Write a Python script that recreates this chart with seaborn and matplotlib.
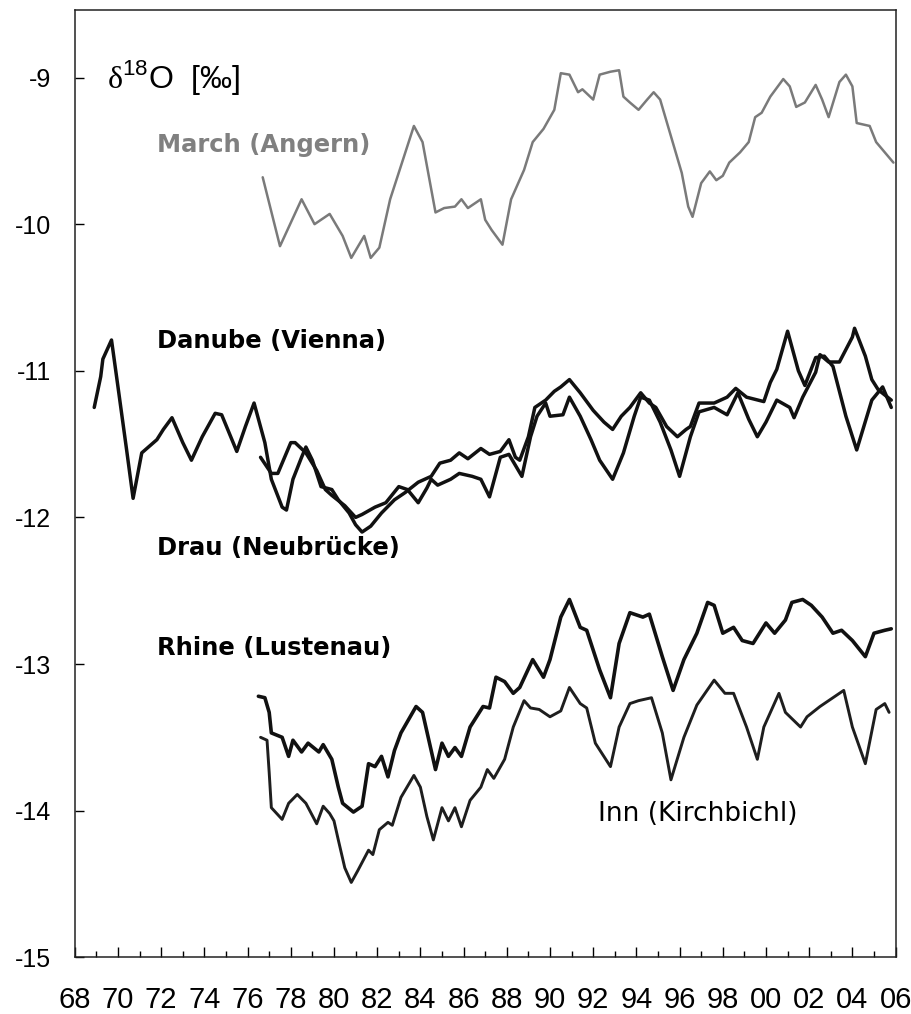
import numpy as np
import pandas as pd
import matplotlib
matplotlib.use("Agg")
import matplotlib.pyplot as plt
import seaborn as sns

# ── Data (year, delta-18O in permil) ────────────────────────────────────────

march_year = [1976.7, 1977.5, 1978.5, 1979.1, 1979.8, 1980.4, 1980.8, 1981.4, 1981.7,
              1982.1, 1982.6, 1983.7, 1984.1, 1984.7, 1985.1, 1985.6, 1985.9, 1986.2,
              1986.8, 1987.0, 1987.3, 1987.8, 1988.2, 1988.8, 1989.2, 1989.7, 1990.2,
              1990.5, 1990.9, 1991.3, 1991.5, 1992.0, 1992.3, 1992.8, 1993.2, 1993.4,
              1993.7, 1994.1, 1994.5, 1994.8, 1995.1, 1995.6, 1996.1, 1996.4, 1996.6,
              1997.0, 1997.4, 1997.7, 1998.0, 1998.3, 1998.8, 1999.2, 1999.5, 1999.8,
              2000.2, 2000.8, 2001.1, 2001.4, 2001.8, 2002.3, 2002.6, 2002.9, 2003.4,
              2003.7, 2004.0, 2004.2, 2004.8, 2005.1, 2005.5, 2005.9]
march_d18o = [-9.68, -10.15, -9.83, -10.00, -9.93, -10.08, -10.23, -10.08, -10.23,
              -10.16, -9.83, -9.33, -9.44, -9.92, -9.89, -9.88, -9.83, -9.89,
              -9.83, -9.97, -10.04, -10.14, -9.83, -9.63, -9.44, -9.35, -9.22,
              -8.97, -8.98, -9.10, -9.08, -9.15, -8.98, -8.96, -8.95, -9.13,
              -9.17, -9.22, -9.15, -9.10, -9.15, -9.40, -9.65, -9.88, -9.95,
              -9.72, -9.64, -9.70, -9.67, -9.58, -9.51, -9.44, -9.27, -9.24,
              -9.13, -9.01, -9.06, -9.20, -9.17, -9.05, -9.15, -9.27, -9.03,
              -8.98, -9.06, -9.31, -9.33, -9.44, -9.51, -9.58]

danube_year = [1968.9, 1969.2, 1969.3, 1969.7, 1970.0, 1970.4, 1970.7, 1971.1, 1971.8,
               1972.1, 1972.5, 1973.0, 1973.4, 1973.9, 1974.5, 1974.8, 1975.5, 1975.9,
               1976.3, 1976.8, 1977.1, 1977.6, 1977.8, 1978.1, 1978.5, 1978.7, 1979.0,
               1979.4, 1979.9, 1980.2, 1980.7, 1981.0, 1981.3, 1981.7, 1982.2, 1982.8,
               1983.3, 1983.9, 1984.5, 1984.9, 1985.4, 1985.8, 1986.2, 1986.8, 1987.2,
               1987.7, 1988.1, 1988.4, 1988.6, 1989.0, 1989.3, 1989.8, 1990.2, 1990.5,
               1990.9, 1991.4, 1992.0, 1992.5, 1992.9, 1993.3, 1993.7, 1994.2, 1994.6,
               1994.9, 1995.4, 1995.9, 1996.3, 1996.5, 1996.9, 1997.6, 1998.2, 1998.6,
               1999.1, 1999.9, 2000.2, 2000.5, 2001.0, 2001.5, 2001.8, 2002.3, 2002.7,
               2003.1, 2003.7, 2004.2, 2004.9, 2005.4, 2005.8]
danube_d18o = [-11.25, -11.04, -10.92, -10.79, -11.11, -11.54, -11.87, -11.56, -11.47,
               -11.40, -11.32, -11.49, -11.61, -11.45, -11.29, -11.30, -11.55, -11.38,
               -11.22, -11.49, -11.74, -11.93, -11.95, -11.74, -11.59, -11.52, -11.61,
               -11.79, -11.81, -11.88, -11.97, -12.05, -12.10, -12.06, -11.97, -11.88,
               -11.83, -11.76, -11.72, -11.63, -11.61, -11.56, -11.60, -11.53, -11.57,
               -11.55, -11.47, -11.59, -11.61, -11.45, -11.25, -11.20, -11.14, -11.11,
               -11.06, -11.15, -11.27, -11.35, -11.40, -11.31, -11.25, -11.15, -11.22,
               -11.25, -11.38, -11.45, -11.40, -11.38, -11.22, -11.22, -11.18, -11.12,
               -11.18, -11.21, -11.08, -10.99, -10.73, -11.00, -11.10, -10.91, -10.90,
               -10.97, -11.31, -11.54, -11.20, -11.11, -11.25]

drau_year = [1976.6, 1977.1, 1977.4, 1978.0, 1978.2, 1978.7, 1979.2, 1979.6, 1979.9,
             1980.5, 1981.0, 1981.3, 1981.9, 1982.4, 1983.0, 1983.4, 1983.9, 1984.3,
             1984.5, 1984.8, 1985.4, 1985.8, 1986.4, 1986.8, 1987.2, 1987.7, 1988.1,
             1988.7, 1989.1, 1989.4, 1989.8, 1990.0, 1990.6, 1990.9, 1991.4, 1991.9,
             1992.3, 1992.9, 1993.4, 1993.9, 1994.2, 1994.6, 1995.1, 1995.6, 1996.0,
             1996.5, 1996.9, 1997.6, 1998.2, 1998.7, 1999.2, 1999.6, 2000.0, 2000.5,
             2001.1, 2001.3, 2001.7, 2002.3, 2002.5, 2002.9, 2003.4, 2004.0, 2004.1,
             2004.6, 2004.9, 2005.2, 2005.8]
drau_d18o = [-11.59, -11.70, -11.70, -11.49, -11.49, -11.56, -11.68, -11.81, -11.85,
             -11.92, -12.00, -11.98, -11.93, -11.90, -11.79, -11.81, -11.90, -11.80,
             -11.74, -11.78, -11.74, -11.70, -11.72, -11.74, -11.86, -11.59, -11.57,
             -11.72, -11.45, -11.31, -11.22, -11.31, -11.30, -11.18, -11.31, -11.47,
             -11.61, -11.74, -11.56, -11.31, -11.18, -11.20, -11.35, -11.54, -11.72,
             -11.45, -11.28, -11.25, -11.30, -11.15, -11.33, -11.45, -11.35, -11.20,
             -11.25, -11.32, -11.18, -11.01, -10.89, -10.94, -10.94, -10.77, -10.71,
             -10.90, -11.06, -11.13, -11.20]

rhine_year = [1976.5, 1976.8, 1977.0, 1977.1, 1977.6, 1977.9, 1978.1, 1978.5, 1978.8,
              1979.3, 1979.5, 1979.9, 1980.2, 1980.4, 1980.9, 1981.3, 1981.6, 1981.9,
              1982.2, 1982.5, 1982.8, 1983.1, 1983.8, 1984.1, 1984.5, 1984.7, 1985.0,
              1985.3, 1985.6, 1985.9, 1986.3, 1986.9, 1987.2, 1987.5, 1987.9, 1988.3,
              1988.6, 1989.2, 1989.7, 1990.0, 1990.5, 1990.9, 1991.4, 1991.7, 1992.3,
              1992.8, 1993.2, 1993.7, 1994.3, 1994.6, 1995.2, 1995.7, 1996.2, 1996.8,
              1997.3, 1997.6, 1998.0, 1998.5, 1998.9, 1999.4, 2000.0, 2000.4, 2000.9,
              2001.2, 2001.7, 2002.1, 2002.6, 2003.1, 2003.5, 2004.0, 2004.6, 2005.0,
              2005.5, 2005.8]
rhine_d18o = [-13.22, -13.23, -13.33, -13.47, -13.50, -13.63, -13.52, -13.60, -13.54,
              -13.60, -13.55, -13.65, -13.84, -13.95, -14.01, -13.97, -13.68, -13.70,
              -13.63, -13.77, -13.59, -13.47, -13.29, -13.33, -13.59, -13.72, -13.54,
              -13.63, -13.57, -13.63, -13.43, -13.29, -13.30, -13.09, -13.12, -13.20,
              -13.16, -12.97, -13.09, -12.97, -12.68, -12.56, -12.75, -12.77, -13.04,
              -13.23, -12.86, -12.65, -12.68, -12.66, -12.95, -13.18, -12.97, -12.79,
              -12.58, -12.60, -12.79, -12.75, -12.84, -12.86, -12.72, -12.79, -12.70,
              -12.58, -12.56, -12.60, -12.68, -12.79, -12.77, -12.84, -12.95, -12.79,
              -12.77, -12.76]

inn_year = [1976.6, 1976.9, 1977.0, 1977.1, 1977.6, 1977.9, 1978.3, 1978.7, 1979.2,
            1979.5, 1979.8, 1980.0, 1980.2, 1980.5, 1980.8, 1981.1, 1981.6, 1981.8,
            1982.1, 1982.5, 1982.7, 1983.1, 1983.7, 1984.0, 1984.3, 1984.6, 1985.0,
            1985.3, 1985.6, 1985.9, 1986.3, 1986.8, 1987.1, 1987.4, 1987.9, 1988.3,
            1988.8, 1989.1, 1989.5, 1990.0, 1990.5, 1990.9, 1991.4, 1991.7, 1992.1,
            1992.8, 1993.2, 1993.7, 1994.1, 1994.7, 1995.2, 1995.6, 1996.2, 1996.8,
            1997.6, 1998.1, 1998.5, 1999.1, 1999.6, 1999.9, 2000.6, 2000.9, 2001.6,
            2001.9, 2002.5, 2003.1, 2003.6, 2004.0, 2004.6, 2005.1, 2005.5, 2005.7]
inn_d18o = [-13.50, -13.52, -13.74, -13.98, -14.06, -13.95, -13.89, -13.95, -14.09,
            -13.97, -14.02, -14.07, -14.20, -14.39, -14.49, -14.41, -14.27, -14.30,
            -14.13, -14.08, -14.10, -13.91, -13.76, -13.84, -14.04, -14.20, -13.98,
            -14.07, -13.98, -14.11, -13.93, -13.84, -13.72, -13.78, -13.65, -13.43,
            -13.25, -13.30, -13.31, -13.36, -13.32, -13.16, -13.27, -13.30, -13.54,
            -13.70, -13.43, -13.27, -13.25, -13.23, -13.47, -13.79, -13.50, -13.28,
            -13.11, -13.20, -13.20, -13.43, -13.65, -13.43, -13.20, -13.33, -13.43,
            -13.36, -13.29, -13.23, -13.18, -13.43, -13.68, -13.31, -13.27, -13.33]

year_ticks = list(range(1968, 2007, 2))
year_labels = [f"{y % 100:02d}" for y in year_ticks]

# ── Style ──────────────────────────────────────────────────────────────────
sns.set_style("ticks")
plt.rcParams['font.family'] = ['Liberation Sans', 'DejaVu Sans']
plt.rcParams['mathtext.fontset'] = 'custom'
plt.rcParams['mathtext.rm'] = 'Liberation Serif'
plt.rcParams['mathtext.sf'] = 'Liberation Sans'
plt.rcParams['text.color'] = 'black'
plt.rcParams['xtick.color'] = 'black'
plt.rcParams['ytick.color'] = 'black'

fig = plt.figure(figsize=(9.12, 10.14), dpi=100)
ax = fig.add_axes([0.082, 0.056, 0.900, 0.934])

series = [
    (march_year, march_d18o, "#7a7a7a", 1.8),
    (danube_year, danube_d18o, "#111111", 2.5),
    (drau_year, drau_d18o, "#111111", 2.5),
    (rhine_year, rhine_d18o, "#111111", 2.6),
    (inn_year, inn_d18o, "#1e1e1e", 2.1),
]
for yr, val, col, lw in series:
    df = pd.DataFrame({"year": yr, "d18o": val})
    sns.lineplot(data=df, x="year", y="d18o", ax=ax, color=col, linewidth=lw,
                 estimator=None, sort=False)

ax.set_xlim(1968, 2006)
ax.set_ylim(-15, -8.54)
ax.set_xticks(year_ticks)
ax.set_xticklabels(year_labels)
ax.set_xticks(range(1969, 2006, 2), minor=True)
ax.set_yticks([-15, -14, -13, -12, -11, -10, -9])
ax.set_yticklabels(["-15", "-14", "-13", "-12", "-11", "-10", "-9"])
ax.tick_params(axis='x', which='major', direction='in', length=7, width=1.0,
               labelsize=21, pad=21)
ax.tick_params(axis='x', which='minor', direction='in', length=4, width=1.0)
ax.tick_params(axis='y', direction='in', length=6.5, width=1.0, labelsize=18, pad=17)
for s in ax.spines.values():
    s.set_visible(True)
    s.set_linewidth(1.1)
    s.set_color("#222222")
ax.set_xlabel("")
ax.set_ylabel("")

# Annotations
ax.text(1969.5, -9.0, r"$\mathrm{\delta}^{\mathsf{18}}$O  [‰]", fontsize=23,
        va='center', ha='left')
lab = dict(family=['DejaVu Sans'], va='center', ha='left')
ax.text(1971.8, -9.46, "March (Angern)", fontsize=17.5, fontweight='bold',
        color="#808080", **lab)
ax.text(1971.8, -10.80, "Danube (Vienna)", fontsize=17.5, fontweight='bold', **lab)
ax.text(1971.8, -12.21, "Drau (Neubrücke)", fontsize=17.5, fontweight='bold', **lab)
ax.text(1971.8, -12.89, "Rhine (Lustenau)", fontsize=17.5, fontweight='bold', **lab)
ax.text(1992.2, -14.02, "Inn (Kirchbichl)", fontsize=19, **lab)

fig.savefig("out.png", dpi=100)
